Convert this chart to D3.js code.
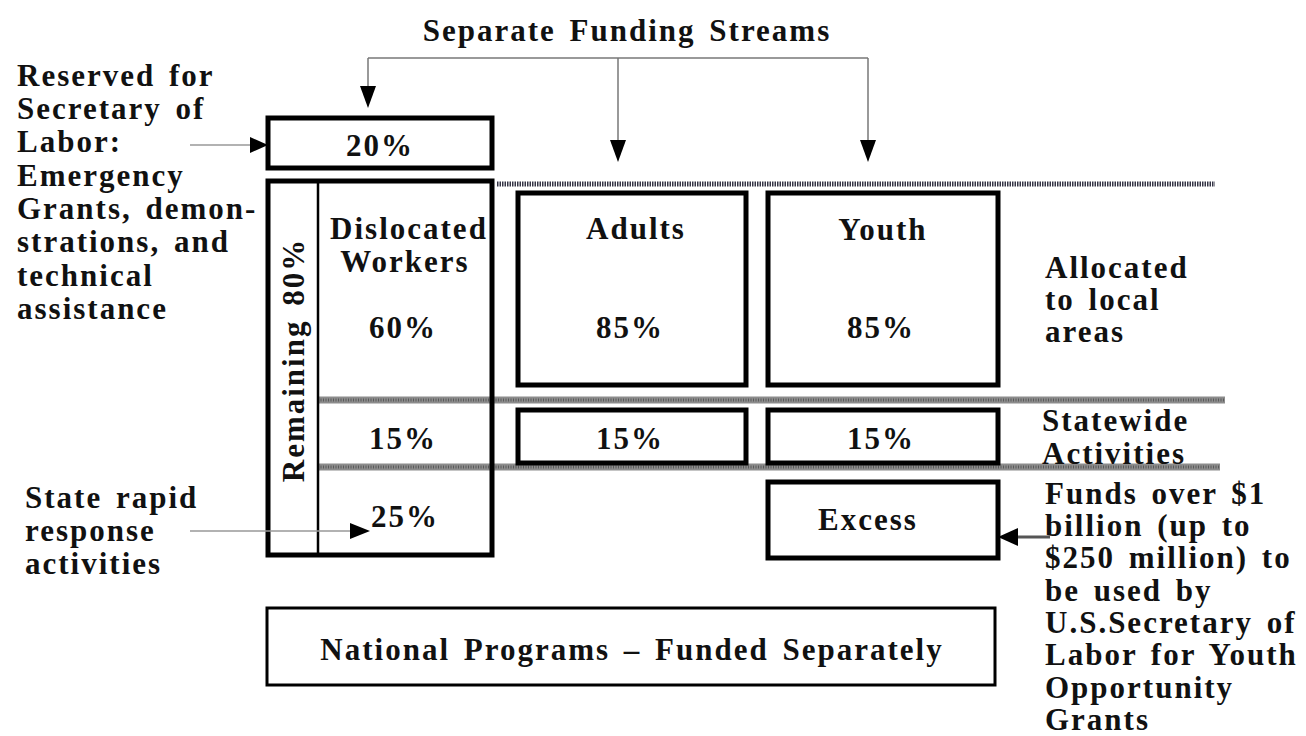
<!DOCTYPE html>
<html lang="en">
<head>
<meta charset="utf-8">
<title>Funding Streams</title>
<script src="https://d3js.org/d3.v7.min.js"></script>
<style>
  body { margin: 0; background: #fff; }
  text { font-family: "Liberation Serif", "Times New Roman", serif; font-weight: bold; fill: #111; letter-spacing: 2px; word-spacing: 4px; }
</style>
</head>
<body>
<script type="text/javascript">

// chart data
var title = "Separate Funding Streams";
var streams = ["Dislocated Workers", "Adults", "Youth"];
var localShare = [60, 85, 85];
var statewideShare = [15, 15, 15];
var rapidShare = 25;
var reservedShare = 20;
var remainingShare = 80;
var excessLabel = "Excess";
var nationalLabel = "National Programs \u2013 Funded Separately";
var reservedNote = ["Reserved for", "Secretary of", "Labor:", "Emergency", "Grants, demon-", "strations, and", "technical", "assistance"];
var rapidNote = ["State rapid", "response", "activities"];
var localNote = ["Allocated", "to local", "areas"];
var statewideNote = ["Statewide", "Activities"];
var excessNote = ["Funds over $1", "billion (up to", "$250 million) to", "be used by", "U.S.Secretary of", "Labor for Youth", "Opportunity", "Grants"];
var rows = ["reserved", "local", "statewide", "rapid", "national"];

var w = 1306, h = 736;
var svg = d3.select("body").append("svg").attr("width", w).attr("height", h);

// column scales (left / right edges)
var x0 = d3.scaleOrdinal().domain(streams).range([318, 518, 768]);
var x1 = d3.scaleOrdinal().domain(streams).range([492, 746, 998]);
var xc = function(s) { return (x0(s) + x1(s)) / 2; };

// row scales (top / bottom edges, text centre)
var y0 = d3.scaleOrdinal().domain(rows).range([118, 193, 410, 482, 608]);
var y1 = d3.scaleOrdinal().domain(rows).range([168, 385, 463, 558, 685]);
var yText = d3.scaleOrdinal().domain(rows).range([145, 327, 438, 516, 649]);

var fs = 31;

function arrowHead(g, tx, ty, dir, len, half) {
  // dir: "down", "right", "left"
  var p;
  if (dir == "down") p = [[tx, ty], [tx - half, ty - len], [tx + half, ty - len]];
  else if (dir == "right") p = [[tx, ty], [tx - len, ty - half], [tx - len, ty + half]];
  else p = [[tx, ty], [tx + len, ty - half], [tx + len, ty + half]];
  g.append("path").attr("d", d3.line()(p) + "Z").attr("fill", "#000");
}

function box(xa, ya, xb, yb, sw) {
  svg.append("rect")
    .attr("x", xa).attr("y", ya)
    .attr("width", xb - xa).attr("height", yb - ya)
    .attr("fill", "none").attr("stroke", "#000").attr("stroke-width", sw);
}

function label(txt, x, y, anchor, size) {
  return svg.append("text")
    .attr("x", x).attr("y", y).attr("dy", "0.35em")
    .attr("text-anchor", anchor || "middle")
    .attr("font-size", size || fs)
    .text(txt);
}

function lines(arr, x, yStart, step) {
  arr.forEach(function(t, i) { label(t, x, yStart + i * step, "start"); });
}

// title
label(title, 627, 30).attr("word-spacing", 6);

// bracket from title to the three streams
var bracketY = 58;
svg.append("line").attr("x1", 368).attr("x2", 868).attr("y1", bracketY).attr("y2", bracketY)
  .attr("stroke", "#777").attr("stroke-width", 1.5);
[[368, 108], [618, 162], [868, 162]].forEach(function(d) {
  svg.append("line").attr("x1", d[0]).attr("x2", d[0]).attr("y1", bracketY).attr("y2", d[1] - 18)
    .attr("stroke", "#777").attr("stroke-width", 1.5);
  arrowHead(svg, d[0], d[1], "down", 22, 8);
});

// reserved box
box(268, y0("reserved"), 492, y1("reserved"), 5);
label(reservedShare + "%", 380, yText("reserved"));
svg.append("line").attr("x1", 190).attr("x2", 252).attr("y1", 145).attr("y2", 145)
  .attr("stroke", "#999").attr("stroke-width", 1.5);
arrowHead(svg, 268, 145, "right", 18, 8);

// band separators
svg.append("line").attr("x1", 497).attr("x2", 1215).attr("y1", 184).attr("y2", 184)
  .attr("stroke", "#334").attr("stroke-width", 5).attr("stroke-dasharray", "1.5,1");
[[400, 1225], [467, 1220]].forEach(function(d) {
  svg.append("line").attr("x1", 318).attr("x2", d[1]).attr("y1", d[0]).attr("y2", d[0])
    .attr("stroke", "#8c8c8c").attr("stroke-width", 7);
  svg.append("line").attr("x1", 318).attr("x2", d[1]).attr("y1", d[0]).attr("y2", d[0])
    .attr("stroke", "#5a5a5a").attr("stroke-width", 3).attr("stroke-dasharray", "1,1.5");
});

// dislocated workers column (remaining 80%)
box(268, 181, 492, 555, 5);
svg.append("line").attr("x1", 318).attr("x2", 318).attr("y1", 181).attr("y2", 555)
  .attr("stroke", "#000").attr("stroke-width", 2.5);
svg.append("text")
  .attr("transform", "translate(293,360) rotate(-90)")
  .attr("dy", "0.35em").attr("text-anchor", "middle")
  .attr("font-size", fs)
  .text("Remaining " + remainingShare + "%");

// stream headings
var dw = streams[0].split(" ");
label(dw[0], xc(streams[0]) + 4, 228);
label(dw[1], xc(streams[0]), 261);
label(streams[1], xc(streams[1]) + 4, 228);
label(streams[2], xc(streams[2]), 229);

// local area boxes for Adults and Youth
streams.slice(1).forEach(function(s) {
  box(x0(s), y0("local"), x1(s), y1("local"), 5);
  box(x0(s), y0("statewide"), x1(s), y1("statewide"), 5);
});

// shares
streams.forEach(function(s, i) {
  label(localShare[i] + "%", xc(s) - 2, yText("local"));
  label(statewideShare[i] + "%", xc(s) - 2, yText("statewide"));
});
label(rapidShare + "%", xc(streams[0]), yText("rapid"));

// excess box
box(x0(streams[2]), y0("rapid"), x1(streams[2]), y1("rapid"), 5);
label(excessLabel, xc(streams[2]) - 15, 519);

// national programs box
box(267, y0("national"), 995, y1("national"), 3);
label(nationalLabel, 632, yText("national"));

// side notes
lines(reservedNote, 17, 75, 33.3);
lines(rapidNote, 25, 497, 33);
lines(localNote, 1045, 267, 32);
lines(statewideNote, 1042, 420, 33);
lines(excessNote, 1045, 493, 32.3);

// note arrows
svg.append("line").attr("x1", 190).attr("x2", 352).attr("y1", 531).attr("y2", 531)
  .attr("stroke", "#999").attr("stroke-width", 1.5);
arrowHead(svg, 370, 531, "right", 20, 8);
svg.append("line").attr("x1", 1016).attr("x2", 1050).attr("y1", 537).attr("y2", 537)
  .attr("stroke", "#555").attr("stroke-width", 3);
arrowHead(svg, 998, 537, "left", 20, 9);

</script>
</body>
</html>
